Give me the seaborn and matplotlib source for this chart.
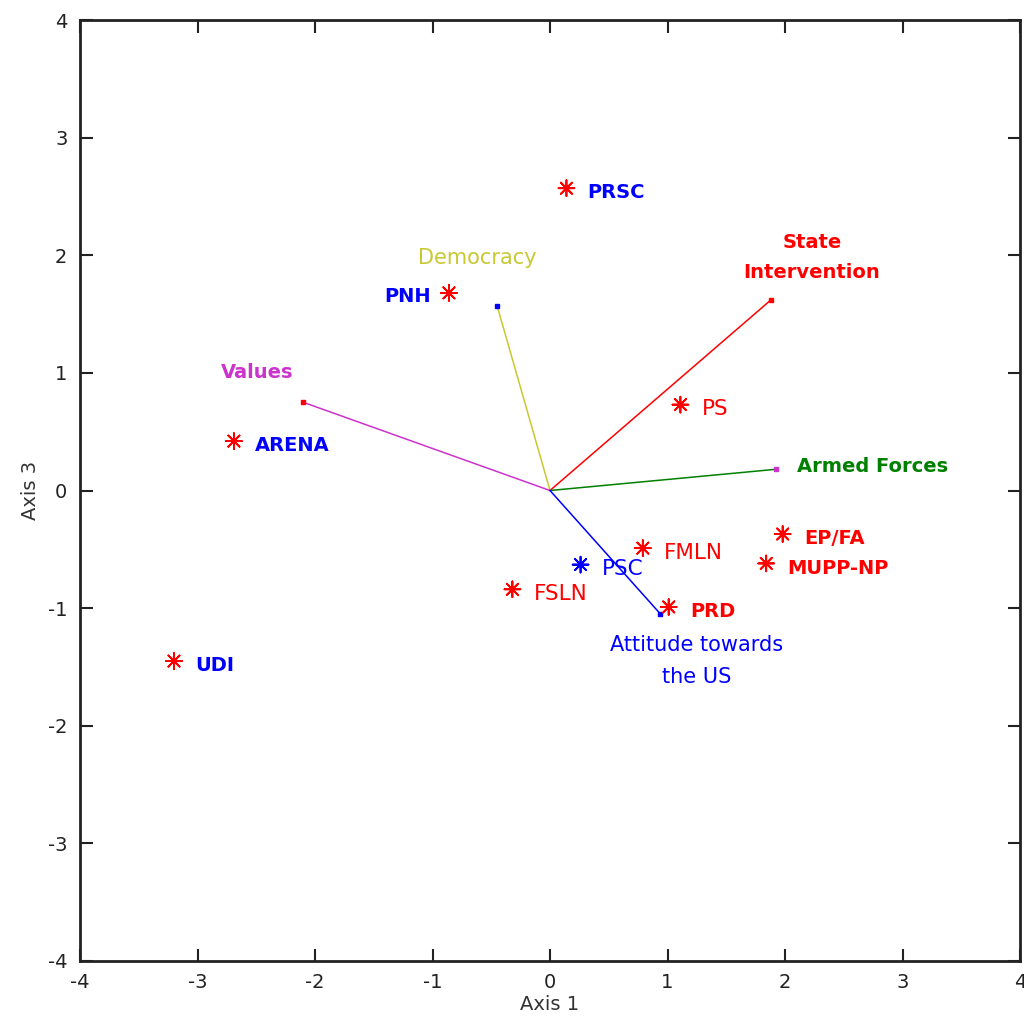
import numpy as np
import pandas as pd
import matplotlib
matplotlib.use("Agg")
import matplotlib.pyplot as plt
import seaborn as sns

# party positions (Axis 1, Axis 3)
parties = ["PRSC", "PNH", "PS", "ARENA", "EP/FA", "FMLN", "MUPP-NP", "PSC", "FSLN", "PRD", "UDI"]
axis1 = [0.14, -0.86, 1.11, -2.69, 1.98, 0.79, 1.84, 0.26, -0.32, 1.01, -3.20]
axis3 = [2.57, 1.68, 0.73, 0.42, -0.37, -0.49, -0.62, -0.63, -0.84, -0.99, -1.45]
marker_grp = ["r", "r", "r", "r", "r", "r", "r", "b", "r", "r", "r"]
label_grp = ["b", "b", "r", "b", "r", "r", "r", "b", "r", "r", "b"]
label_bold = [True, True, False, True, True, False, True, False, False, True, True]

# variable vectors
variables = ["Democracy", "State\nIntervention", "Values", "Armed Forces", "Attitude towards\nthe US"]
vec_x = [-0.45, 1.88, -2.10, 1.92, 0.94]
vec_y = [1.57, 1.62, 0.75, 0.18, -1.05]
vec_colors = ["#c8c832", "#ff0000", "#cc33cc", "#008000", "#0000ff"]
tip_colors = ["#0000ff", "#ff0000", "#ff0000", "#cc33cc", "#0000ff"]
vec_bold = [False, True, True, True, False]
# label positions for the vectors
lab_x = [-0.62, 2.23, -2.49, 2.10, 1.25]
lab_y = [1.98, 1.98, 1.00, 0.20, -1.45]
lab_ha = ["center", "center", "center", "left", "center"]

sns.set_style("ticks")
plt.rcParams["font.family"] = ["DejaVu Sans"]
plt.rcParams["axes.unicode_minus"] = False

fig = plt.figure(figsize=(10.24, 10.26), dpi=100)
ax = fig.add_axes([80 / 1024, 1 - 961 / 1026, 940 / 1024, 941 / 1026])

colmap = {"r": "#ff0000", "b": "#0000ff"}

for vx, vy, c, tc in zip(vec_x, vec_y, vec_colors, tip_colors):
    ax.plot([0, vx], [0, vy], color=c, lw=1.1, zorder=2)
    ax.plot([vx], [vy], marker="s", ms=3, color=tc, zorder=3)

df = pd.DataFrame({"x": axis1, "y": axis3, "grp": marker_grp})
sns.scatterplot(data=df, x="x", y="y", hue="grp", palette=colmap, marker=(8, 2, 0),
                s=130, linewidth=1.3, legend=False, ax=ax, zorder=4)

for name, x, y, g, b in zip(parties, axis1, axis3, label_grp, label_bold):
    if name == "PNH":
        ax.text(x - 0.15, y - 0.03, name, color=colmap[g], fontsize=14,
                fontweight="bold", ha="right", va="center")
    else:
        ax.text(x + 0.18, y - 0.04, name, color=colmap[g],
                fontsize=14 if b else 15.5, fontweight="bold" if b else "normal",
                ha="left", va="center")

for name, x, y, c, b, ha in zip(variables, lab_x, lab_y, vec_colors, vec_bold, lab_ha):
    ax.text(x, y, name, color=c, fontsize=14 if b else 15,
            fontweight="bold" if b else "normal", ha=ha, va="center",
            linespacing=1.75)

ax.set_xlim(-4, 4)
ax.set_ylim(-4, 4)
ax.set_xticks(range(-4, 5))
ax.set_yticks(range(-4, 5))
ax.tick_params(direction="in", length=9, width=1.5, top=True, right=True,
               labelsize=14, labelcolor="#222222", color="#222222", pad=9)
for sp in ax.spines.values():
    sp.set_visible(True)
    sp.set_linewidth(2)
    sp.set_color("#222222")
ax.set_xlabel("Axis 1", fontsize=14, color="#333333", labelpad=2)
ax.set_ylabel("Axis 3", fontsize=14, color="#333333", labelpad=6)

fig.savefig("out.png", dpi=100)
